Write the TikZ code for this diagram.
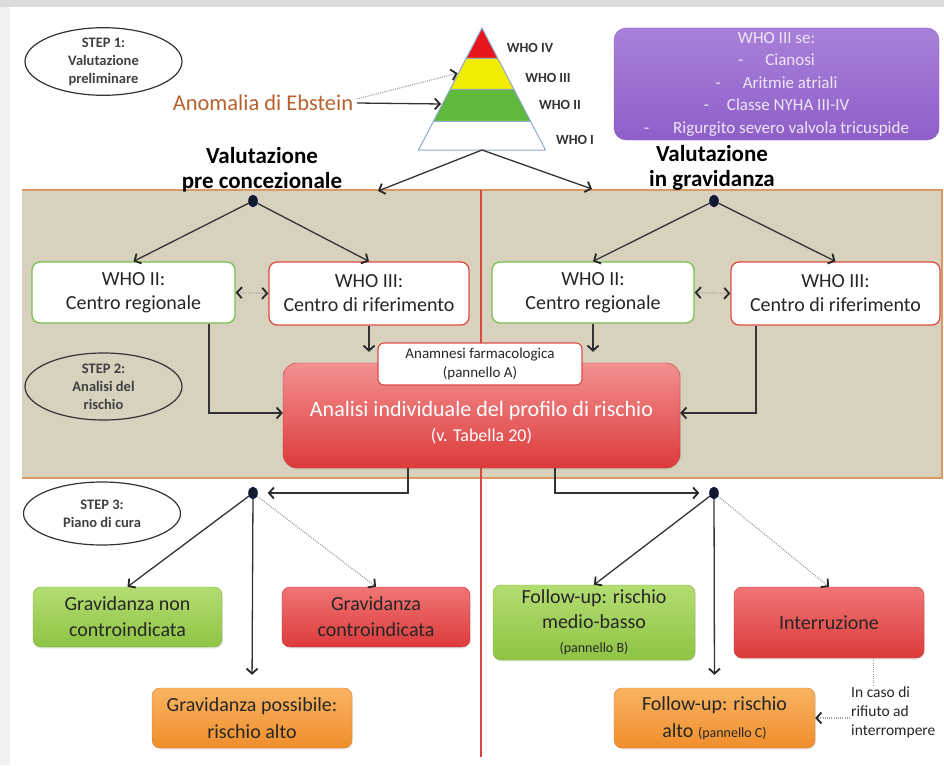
\documentclass[tikz,border=0pt]{standalone}
\usepackage{fontspec}
\setmainfont{Carlito}
\usetikzlibrary{arrows.meta,shapes.geometric,calc,shadows}

\newcommand\setfs[2]{\fontsize{#1}{#2}\selectfont}

\definecolor{pagegrey}{HTML}{F1F1F1}
\definecolor{topgrey}{HTML}{DCDCDC}
\definecolor{bandfill}{HTML}{D7D1BD}
\definecolor{bandline}{HTML}{DA9A66}
\definecolor{divider}{HTML}{D9483F}
\definecolor{ebstein}{HTML}{B8612E}
\definecolor{pyrred}{HTML}{E8161C}
\definecolor{pyryel}{HTML}{F2EC00}
\definecolor{pyrgrn}{HTML}{5DB83B}
\definecolor{pyredge}{HTML}{8FA8D0}
\definecolor{purtop}{HTML}{A880DA}
\definecolor{purbot}{HTML}{8F5FC8}
\definecolor{purtext}{HTML}{EEE6F8}
\definecolor{okgreen}{HTML}{78C04E}
\definecolor{alertred}{HTML}{E04A45}
\definecolor{gtop}{HTML}{B4DC72}
\definecolor{gbot}{HTML}{8EC444}
\definecolor{rtop}{HTML}{F07575}
\definecolor{rbot}{HTML}{DC3A3A}
\definecolor{otop}{HTML}{F8B462}
\definecolor{obot}{HTML}{F08E2C}
\definecolor{dotfill}{HTML}{101A2A}
\definecolor{ink}{HTML}{262626}

\tikzset{
  barbtip/.tip={Straight Barb[length=5pt, width=11pt, line width=1.8pt, color=black!85]},
  flowbox/.style={rounded corners=8pt, align=center, inner sep=0pt,
    font=\setfs{20}{24}, text=ink},
  greenframe/.style={flowbox, draw=okgreen, fill=white, line width=1.3pt},
  redframe/.style={flowbox, draw=alertred, fill=white, line width=1.3pt},
  greenfill/.style={flowbox, top color=gtop, bottom color=gbot, draw=gbot!90!black,
    line width=0.4pt, drop shadow={opacity=0.18, shadow xshift=1pt, shadow yshift=-1.5pt}},
  redfill/.style={flowbox, top color=rtop, bottom color=rbot, draw=rbot!90!black,
    line width=0.4pt, drop shadow={opacity=0.18, shadow xshift=1pt, shadow yshift=-1.5pt}},
  orangefill/.style={flowbox, top color=otop, bottom color=obot, draw=obot!90!black,
    line width=0.4pt, drop shadow={opacity=0.18, shadow xshift=1pt, shadow yshift=-1.5pt}},
  stepell/.style={ellipse, draw=black!80, line width=1.2pt, inner sep=0pt,
    minimum width=157pt, align=center, font=\setfs{14.5}{18}\bfseries, text=black!75},
  wholabel/.style={font=\setfs{14}{15}\bfseries, text=black!80},
  heading/.style={align=center, font=\setfs{23}{25}\bfseries, text=black},
  hub/.style={ellipse, fill=dotfill, draw=blue!40!black, line width=0.4pt,
    minimum width=9pt, minimum height=12pt, inner sep=0pt},
  arr/.style={draw=black!80, line width=1.3pt, -barbtip},
  dotarr/.style={draw=gray!75, line width=1.2pt, dash pattern=on 1pt off 1.2pt, -barbtip},
  dotboth/.style={draw=gray!75, line width=1.2pt, dash pattern=on 1pt off 1.6pt, barbtip-barbtip},
  dotplain/.style={draw=gray!75, line width=1pt, dash pattern=on 1pt off 1.2pt},
}

\begin{document}
\begin{tikzpicture}[x=1pt, y=-1pt]
\useasboundingbox (0,0) rectangle (944,765);

% page background
\fill[pagegrey] (0,0) rectangle (944,765);
\fill[topgrey] (0,0) rectangle (944,7);
\fill[white] (10,7) rectangle (944,765);

% beige band for step 2
\fill[bandfill] (22,190) rectangle (942,478);
\draw[bandline, line width=1.2pt] (22,190) -- (942,190) -- (942,478) -- (22,478);

% divider between the two columns
\draw[divider, line width=1.6pt] (481,190) -- (481,757);

% ---------- step 1 ----------
\node[stepell, minimum height=67pt] (s1) at (103.5,61.5) {STEP 1:\\Valutazione\\preliminare};
\node[font=\setfs{22.5}{27}, text=ebstein] (anom) at (263,103) {Anomalia di Ebstein};

% WHO risk pyramid
\fill[pyrred] (482,28) -- (497.6,58) -- (466.4,58) -- cycle;
\fill[pyryel] (466.4,58) -- (497.6,58) -- (513.75,89) -- (450.25,89) -- cycle;
\fill[pyrgrn] (450.25,89) -- (513.75,89) -- (530.4,121) -- (433.6,121) -- cycle;
\fill[white] (433.6,121) -- (530.4,121) -- (545.5,150) -- (418.5,150) -- cycle;
\draw[pyredge, line width=1pt, line join=round] (482,28) -- (545.5,150) -- (418.5,150) -- cycle;
\draw[pyredge, line width=0.8pt] (466.4,58) -- (497.6,58) (450.25,89) -- (513.75,89) (433.6,121) -- (530.4,121);
\coordinate (pyrY) at (458.5,73);
\coordinate (pyrG) at (442,104);
\coordinate (pyrbase) at (482,150);

\node[wholabel] (w4) at (530,48) {WHO IV};
\node[wholabel] (w3) at (548,78) {WHO III};
\node[wholabel] (w2) at (560,105) {WHO II};
\node[wholabel] (w1) at (575,140) {WHO I};

\draw[arr, shorten >=1pt] (anom.east) -- (pyrG);
\draw[dotarr, shorten >=1pt] ([yshift=4pt]anom.east) -- (pyrY);

% WHO III criteria
\node[rounded corners=12pt, top color=purtop, bottom color=purbot, draw=purbot,
      minimum width=325pt, minimum height=112pt, align=center, inner sep=0pt,
      font=\setfs{17}{22.5}, text=purtext] (crit) at (776.5,84)
  {WHO III se:\\
   -\hspace{22pt}Cianosi\\
   -\hspace{22pt}Aritmie atriali\\
   -\hspace{18pt}Classe NYHA III-IV\\
   -\hspace{24pt}Rigurgito severo valvola tricuspide};

\node[heading] (vpc) at (262,169.5) {Valutazione\\pre concezionale};
\node[heading] (vig) at (712,167.5) {Valutazione\\in gravidanza};
\coordinate (pcend) at (378,191);
\coordinate (igend) at (592,189);
\draw[arr] (pyrbase) -- (pcend);
\draw[arr] (pyrbase) -- (igend);

% ---------- step 2 ----------
\node[stepell, minimum height=67pt] (s2) at (103.5,386.5) {STEP 2:\\Analisi del\\rischio};

\node[hub] (d1) at (253,201) {};
\node[hub] (d2) at (714,201) {};

\node[greenframe, minimum width=203pt, minimum height=61pt] (lw2) at (133.5,292.5) {WHO II:\\Centro regionale};
\node[redframe, minimum width=200pt, minimum height=63pt] (lw3) at (369,293.5) {WHO III:\\Centro di riferimento};
\node[greenframe, minimum width=202pt, minimum height=61pt] (rw2) at (593,292.5) {WHO II:\\Centro regionale};
\node[redframe, minimum width=209pt, minimum height=63pt] (rw3) at (835.5,293.5) {WHO III:\\Centro di riferimento};

\node[redfill, rounded corners=14pt, top color=rtop!80!white, bottom color=rbot,
      minimum width=397pt, minimum height=105pt] (rbox) at (481.5,415.5) {};
\node[align=center, text=white, font=\setfs{22}{25}] (rboxtxt) at (481.5,423)
  {Analisi individuale del profilo di rischio\\{\setfs{18}{20}(v. Tabella 20)}};
\node[redframe, line width=1.1pt, rounded corners=6pt, minimum width=204pt, minimum height=42pt,
      font=\setfs{15}{19}] (anam) at (480,364) {Anamnesi farmacologica\\(pannello A)};

\draw[arr] (d1) -- (lw2.north);
\draw[arr] (d1) -- (lw3.north);
\draw[arr] (d2) -- (rw2.north);
\draw[arr] (d2) -- (rw3.north);
\draw[dotboth] (lw2.east) -- (lw3.west);
\draw[dotboth] (rw2.east) -- (rw3.west);

\draw[arr, shorten >=11pt] (lw3.south) -- (lw3.south |- rbox.north);
\draw[arr, shorten >=11pt] (rw2.south) -- (rw2.south |- rbox.north);
\draw[arr] ([xshift=75.5pt]lw2.south) |- ([yshift=2.5pt]rbox.west);
\draw[arr] ([xshift=-79.5pt]rw3.south) |- ([yshift=2.5pt]rbox.east);

% ---------- step 3 ----------
\node[stepell, minimum height=63pt] (s3) at (102,513.5) {STEP 3:\\Piano di cura};

\node[hub] (d3) at (253,493) {};
\node[hub] (d4) at (714,493) {};
\draw[arr, shorten >=10pt] ([xshift=-73.5pt]rbox.south) |- (d3);
\draw[arr, shorten >=10pt] ([xshift=73.5pt]rbox.south) |- (d4);

\node[greenfill, minimum width=189pt, minimum height=60pt, font=\setfs{20}{26}] (gnc) at (127.5,617) {Gravidanza non\\controindicata};
\node[redfill, minimum width=188pt, minimum height=60pt, font=\setfs{20}{26}] (gc) at (376,617) {Gravidanza\\controindicata};
\node[orangefill, minimum width=200pt, minimum height=60pt, font=\setfs{20}{27}] (gpa) at (252,718) {Gravidanza possibile:\\rischio alto};

\node[greenfill, minimum width=202pt, minimum height=75pt, font=\setfs{20}{24.5}] (fmb) at (594,622.5)
  {Follow-up: rischio\\medio-basso\\{\setfs{14}{16}(pannello B)}};
\node[redfill, minimum width=190pt, minimum height=71pt] (intr) at (829,622.5) {Interruzione};
\node[orangefill, minimum width=201pt, minimum height=60pt, font=\setfs{20}{27}] (fa) at (714.5,718)
  {Follow-up: rischio\\alto {\setfs{14}{16}(pannello C)}};

\draw[arr] (d3) -- (gnc.north);
\draw[arr, shorten >=13pt] (d3) -- (gpa.north);
\draw[dotarr] (d3) -- (gc.north);
\draw[arr] (d4) -- (fmb.north);
\draw[arr, shorten >=13pt] (d4) -- (fa.north);
\draw[dotarr] (d4) -- (intr.north);

\node[anchor=west, align=left, inner sep=1pt, font=\setfs{15.5}{19}, text=black!85] (refusal) at (850,712)
  {In caso di\\rifiuto ad\\interrompere};
\draw[dotplain] ([xshift=44pt]intr.south) -- ([xshift=44pt]intr.south |- refusal.north);
\draw[dotarr] (refusal.west |- fa.east) -- (fa.east);

\end{tikzpicture}
\end{document}
